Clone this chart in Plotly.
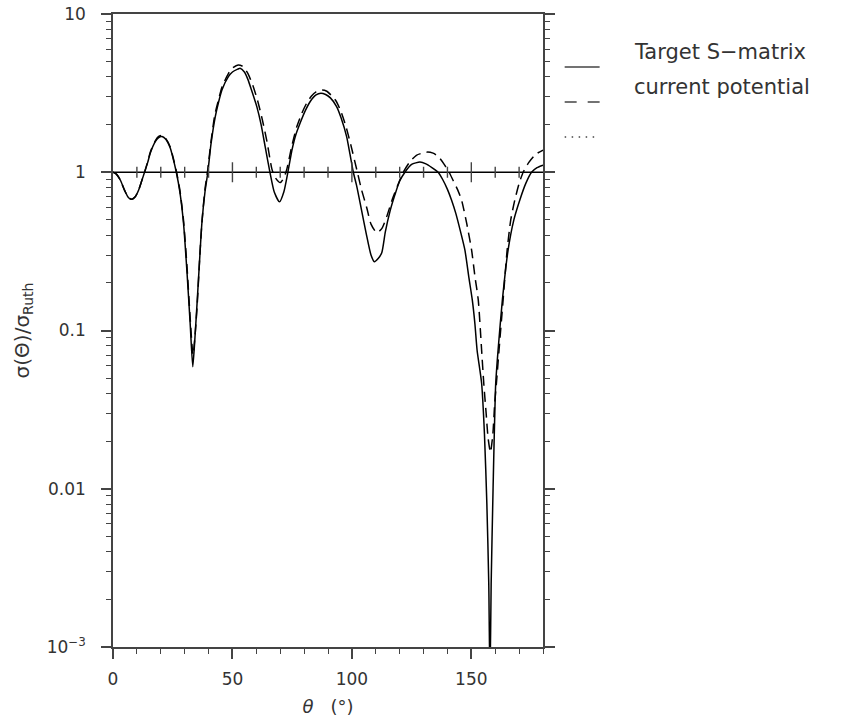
import plotly.graph_objects as go

# Target S-matrix (solid)
theta_target = [0, 1.5, 3.1, 5, 6.5, 7.9, 9.3, 10.7, 12, 13.2, 14.5, 15.6, 17.7, 19, 20.5,
                22, 24, 25, 26.5, 28, 29.5, 31, 32.3, 33.4, 34.3, 35.1, 36.2, 37.2, 38.5, 39.7,
                41, 42.8, 44, 45.6, 48.3, 50, 52.2, 53.2, 55, 56.5, 58, 60.2, 62, 63.7, 65.8,
                67.5, 69.7, 71.5, 73.2, 75, 76.5, 78.3, 80.5, 82.5, 85, 87, 89, 91, 93.6, 95.5,
                97.8, 99.2, 100.6, 102, 104, 106, 108, 109.4, 111, 112.5, 114, 116, 118, 120,
                122.2, 125, 128.5, 131, 133.5, 136.1, 138, 140, 141.7, 143.5, 145.5, 147.3, 149,
                150.4, 151.5, 152.4, 154.3, 155.5, 156.5, 157.3, 157.8, 158.3, 159.1, 160.2, 161.2,
                163, 165.4, 167.8, 170.3, 172.8, 175.2, 177.5, 180]
sigma_target = [1.0, 0.97, 0.89, 0.76, 0.69, 0.675, 0.70, 0.77, 0.88, 1.0, 1.15, 1.32, 1.56, 1.65, 1.68,
                1.62, 1.42, 1.25, 1.0, 0.75, 0.48, 0.23, 0.111, 0.059, 0.09, 0.141, 0.27, 0.476, 0.75, 1.0,
                1.5, 2.24, 2.7, 3.31, 4.02, 4.3, 4.48, 4.54, 4.3, 3.85, 3.3, 2.6, 2.0, 1.45, 0.98,
                0.75, 0.65, 0.75, 1.0, 1.4, 1.72, 2.04, 2.45, 2.79, 3.08, 3.16, 3.1, 2.95, 2.6, 2.2,
                1.68, 1.3, 1.0, 0.82, 0.58, 0.41, 0.3, 0.272, 0.285, 0.31, 0.42, 0.57, 0.72, 0.88,
                1.0, 1.12, 1.16, 1.13, 1.07, 1.0, 0.9, 0.78, 0.668, 0.55, 0.42, 0.323, 0.215,
                0.156, 0.11, 0.0753, 0.0464, 0.022, 0.008, 0.0025, 0.0006, 0.0025, 0.01, 0.046, 0.0753,
                0.156, 0.323, 0.5, 0.668, 0.85, 1.0, 1.07, 1.11]

# current potential (dashed)
theta_current = [0, 1.5, 3.1, 5, 6.5, 7.9, 9.3, 10.7, 12, 13.2, 14.5, 15.6, 17.7, 19, 20.5,
                 22, 24, 25, 26.5, 28, 29.5, 31, 32.3, 33.5, 34.5, 35.3, 36.3, 37.3, 38.5, 39.6,
                 41, 42.6, 44, 45.6, 48.3, 50, 52.4, 54.5, 56.5, 58.5, 60.5, 62.5, 64.5, 66.5,
                 68, 70, 71.5, 72.8, 75, 77, 79, 81, 83, 85, 87.5, 89.5, 91.5, 93.5, 95.5, 97.5,
                 99.5, 102.3, 104, 106.3, 108, 110.4, 112.5, 114.5, 117, 119.5, 121.5, 124, 127,
                 131.3, 134, 136.1, 138.5, 140.7, 142.5, 144.2, 145.9, 148, 150.1, 151.5, 152.9,
                 154.3, 155.2, 156.2, 157, 158, 159, 159.8, 160.5, 161.6, 163.3, 165, 166.5,
                 168.2, 170, 171.7, 174, 177, 180]
sigma_current = [1.0, 0.97, 0.89, 0.76, 0.69, 0.675, 0.70, 0.77, 0.88, 1.0, 1.16, 1.34, 1.58, 1.68, 1.71,
                 1.64, 1.44, 1.27, 1.02, 0.77, 0.5, 0.25, 0.12, 0.07, 0.1, 0.15, 0.29, 0.5, 0.78, 1.02,
                 1.55, 2.3, 2.8, 3.45, 4.2, 4.55, 4.76, 4.65, 4.2, 3.55, 2.85, 2.15, 1.55, 1.05,
                 0.92, 0.86, 0.92, 1.05, 1.5, 1.95, 2.35, 2.72, 3.02, 3.22, 3.31, 3.25, 3.05, 2.8, 2.4, 1.95,
                 1.5, 1.0, 0.78, 0.59, 0.47, 0.415, 0.44, 0.52, 0.68, 0.85, 1.0, 1.15, 1.28,
                 1.34, 1.32, 1.26, 1.13, 1.0, 0.88, 0.78, 0.668, 0.48, 0.323, 0.22, 0.156,
                 0.0753, 0.0464, 0.03, 0.021, 0.017, 0.022, 0.035, 0.0464, 0.0753, 0.156, 0.323, 0.5,
                 0.668, 0.85, 1.0, 1.15, 1.3, 1.38]

legend_names = ["Target S\u2212matrix", "current potential", ""]
legend_dashes = ["solid", "12px,11px", "1.5px,5.5px"]

y_tickvals = [0.001, 0.01, 0.1, 1, 10]
y_ticktext = ["10<sup>\u22123</sup>", "0.01", "0.1", "1", "10"]
y_minor_vals = [m * 10.0 ** e for e in range(-3, 1) for m in range(2, 10)]
x_tickvals = [0, 50, 100, 150]
ref_level = 1.0                       # sigma/sigma_Ruth = 1 reference line
ref_tick_vals = list(range(10, 180, 10))
ref_major_vals = [50, 100, 150]

FONT = "DejaVu Sans"
TXT = "#333333"
AX = "#444444"
W, H, L, T = 844, 724, 112.7, 14
PW, PH = 430.6, 633

fig = go.Figure()
fig.add_trace(go.Scatter(x=theta_target, y=sigma_target, mode="lines", name=legend_names[0],
                         line=dict(color="black", width=1.5, shape="spline", smoothing=0.6)))
fig.add_trace(go.Scatter(x=theta_current, y=sigma_current, mode="lines", name=legend_names[1],
                         line=dict(color="black", width=1.5, dash="10px,6px", shape="spline", smoothing=0.6)))

# reference line at sigma/sigma_Ruth = 1 with crossing ticks
fig.add_hline(y=ref_level, line=dict(color="black", width=1.5))
for v in ref_tick_vals:
    half = (10 if v in ref_major_vals else 5.5) / PH
    fig.add_shape(type="line", xref="x", yref="paper", x0=v, x1=v,
                  y0=0.75 - half, y1=0.75 + half, line=dict(color=AX, width=1.4))

# manual legend (sample lines sit under the text baseline, as in the reference)
leg_x0, leg_x1, leg_tx = 565, 600, 632
leg_line_y = [67, 102, 137]
leg_text_y = [52, 87, 122]
for name, dash, ly, ty in zip(legend_names, legend_dashes, leg_line_y, leg_text_y):
    fig.add_shape(type="line", xref="paper", yref="paper",
                  x0=(leg_x0 - L) / PW, x1=(leg_x1 - L) / PW,
                  y0=(T + PH - ly) / PH, y1=(T + PH - ly) / PH,
                  line=dict(color="#444444", width=1.3, dash=dash))
    if name:
        fig.add_annotation(xref="paper", yref="paper", x=(leg_tx - L) / PW, y=(T + PH - ty) / PH,
                           xanchor="left", yanchor="middle", text=name, showarrow=False,
                           font=dict(family=FONT, size=21, color=TXT))

fig.update_layout(
    width=W, height=H,
    margin=dict(l=L, r=W - L - PW, t=T, b=H - T - PH, autoexpand=False),
    paper_bgcolor="white", plot_bgcolor="white",
    font=dict(family=FONT, size=17, color=TXT),
    showlegend=False,
    xaxis=dict(range=[0, 180], showgrid=False, zeroline=False, automargin=False,
               showline=True, linecolor=AX, linewidth=1.5, mirror=True,
               ticks="outside", ticklen=10, tickwidth=1.5, tickcolor=AX,
               tickvals=x_tickvals, ticklabelstandoff=6,
               minor=dict(dtick=10, ticks="outside", ticklen=5, tickwidth=1.2, tickcolor=AX),
               title=dict(text="<i>\u03b8</i>   (\u00b0)", standoff=12, font=dict(size=18))),
    yaxis=dict(type="log", range=[-3, 1], showgrid=False, zeroline=False, automargin=False,
               showline=True, linecolor=AX, linewidth=1.5, mirror="ticks",
               ticks="outside", ticklen=10, tickwidth=1.5, tickcolor=AX,
               tickvals=y_tickvals, ticktext=y_ticktext, ticklabelstandoff=12,
               minor=dict(tickvals=y_minor_vals, ticks="outside", ticklen=5, tickwidth=1.2, tickcolor=AX),
               title=dict(text="\u03c3(\u0398)/\u03c3<sub>Ruth</sub>", standoff=12, font=dict(size=20))),
)

fig.write_html("out.html")
